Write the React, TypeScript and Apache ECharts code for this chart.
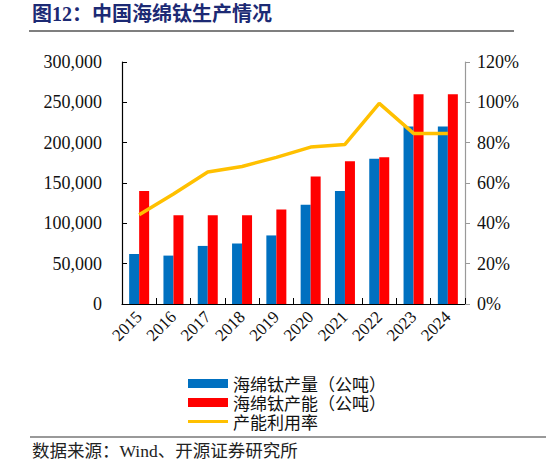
import React, { useEffect, useRef } from 'react';
import * as echarts from 'echarts';

const years = ['2015', '2016', '2017', '2018', '2019', '2020', '2021', '2022', '2023', '2024'];
// 海绵钛产量（公吨）
const output = [62000, 60000, 72000, 75000, 85000, 123000, 140000, 180000, 220000, 220000];
// 海绵钛产能（公吨）
const capacity = [140000, 110000, 110000, 110000, 117000, 158000, 177000, 182000, 260000, 260000];
// 产能利用率
const utilization = [0.443, 0.545, 0.655, 0.682, 0.727, 0.778, 0.791, 0.995, 0.846, 0.846];

const serif = '"Times New Roman", "Liberation Serif", "Noto Sans CJK SC", serif';
const cjk = '"Noto Sans CJK SC", sans-serif';

const App: React.FC = () => {
  const chartRef = useRef<HTMLDivElement>(null);

  useEffect(() => {
    if (!chartRef.current) return;
    const chart = echarts.init(chartRef.current, null, { renderer: 'svg' });

    const option: any = {
      animation: false,
      backgroundColor: '#fff',
      grid: {
        left: 122,
        right: 81,
        top: 62,
        bottom: 163,
        containLabel: false
      },
      graphic: [
        {
          type: 'text',
          left: 32,
          top: 4,
          style: {
            text: '图12：中国海绵钛生产情况',
            fontSize: 20,
            fontWeight: 'bold',
            fontFamily: serif,
            fill: '#1c2a74'
          }
        },
        {
          type: 'line',
          shape: { x1: 29, y1: 31, x2: 514, y2: 31 },
          style: { stroke: '#555', lineWidth: 1.5 }
        },
        {
          type: 'line',
          shape: { x1: 30, y1: 437, x2: 546, y2: 437 },
          style: { stroke: '#777', lineWidth: 1.5 }
        },
        {
          type: 'text',
          left: 32,
          top: 442,
          style: {
            text: '数据来源：Wind、开源证券研究所',
            fontSize: 17.5,
            fontFamily: serif,
            fill: '#222'
          }
        }
      ],
      legend: {
        orient: 'vertical',
        left: 183,
        top: 369,
        itemWidth: 40,
        itemHeight: 9,
        itemGap: 0,
        textStyle: {
          fontFamily: cjk,
          fontSize: 17,
          color: '#111',
          lineHeight: 19
        },
        data: [
          { name: '海绵钛产量（公吨）', icon: 'rect' },
          { name: '海绵钛产能（公吨）', icon: 'rect' },
          { name: '产能利用率', icon: 'path://M0,0 L40,0 L40,3.2 L0,3.2 Z' }
        ]
      },
      xAxis: {
        type: 'category',
        data: years,
        axisLine: { lineStyle: { color: '#000', width: 1.2 } },
        axisTick: { show: true, inside: true, length: 6, lineStyle: { color: '#000' } },
        axisLabel: {
          rotate: 45,
          margin: 10,
          fontFamily: serif,
          fontSize: 17,
          color: '#111'
        },
        splitLine: { show: false }
      },
      yAxis: [
        {
          type: 'value',
          min: 0,
          max: 300000,
          interval: 50000,
          axisLine: { show: true, lineStyle: { color: '#000', width: 1.2 } },
          axisTick: { show: true, inside: true, length: 5, lineStyle: { color: '#000' } },
          axisLabel: {
            margin: 20,
            fontFamily: serif,
            fontSize: 18,
            color: '#111',
            formatter: (v: number) => v.toLocaleString('en-US')
          },
          splitLine: { show: false }
        },
        {
          type: 'value',
          min: 0,
          max: 1.2,
          interval: 0.2,
          position: 'right',
          axisLine: { show: true, lineStyle: { color: '#999', width: 1.2 } },
          axisTick: { show: true, inside: false, length: 5, lineStyle: { color: '#999' } },
          axisLabel: {
            margin: 12,
            fontFamily: serif,
            fontSize: 18,
            color: '#111',
            formatter: (v: number) => Math.round(v * 100) + '%'
          },
          splitLine: { show: false }
        }
      ],
      series: [
        {
          name: '海绵钛产量（公吨）',
          type: 'bar',
          data: output,
          barWidth: 10,
          barGap: '0%',
          itemStyle: { color: '#0070C0' }
        },
        {
          name: '海绵钛产能（公吨）',
          type: 'bar',
          data: capacity,
          barWidth: 10,
          barGap: '0%',
          itemStyle: { color: '#FF0000' }
        },
        {
          name: '产能利用率',
          type: 'line',
          yAxisIndex: 1,
          data: utilization,
          symbol: 'none',
          lineStyle: { color: '#FFC000', width: 3.5 },
          itemStyle: { color: '#FFC000' }
        }
      ]
    };

    chart.setOption(option);

    return () => {
      chart.dispose();
    };
  }, []);

  return (
    <div
      ref={chartRef}
      style={{ position: 'fixed', left: 0, top: 0, width: 546, height: 467 }}
    />
  );
};

export default App;
